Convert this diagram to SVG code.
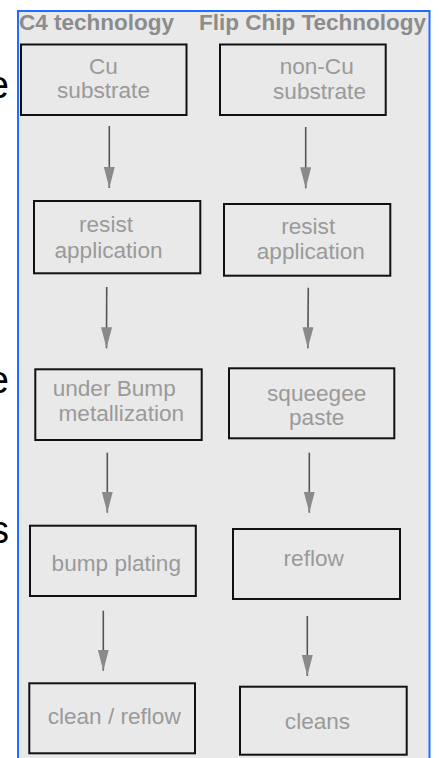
<svg xmlns="http://www.w3.org/2000/svg" width="439" height="758" viewBox="0 0 439 758">
<style>
.box{fill:none;stroke:#111;stroke-width:2}
.lbl{font-family:"Liberation Sans",Arial,sans-serif;font-size:22.6px;fill:#9a9a9a;text-anchor:middle}
.hdr{font-family:"Liberation Sans",Arial,sans-serif;font-size:22.5px;font-weight:bold;fill:#8c8c8c}
.side{font-family:"Liberation Sans",Arial,sans-serif;font-size:38px;fill:#000;text-anchor:end}
.arr{stroke:#555;stroke-width:1.6;fill:none;marker-end:url(#ah)}
</style>
<defs>
<marker id="ah" markerUnits="userSpaceOnUse" viewBox="0 -6 22 12" markerWidth="22" markerHeight="12" refX="21" refY="0" orient="auto">
<path d="M0,-5.5 L21,0 L0,5.5 Z" fill="#8a8a8a"/>
</marker>
</defs>
<rect width="439" height="758" fill="#fff"/>
<text class="side" x="9" y="97.5">e</text>
<text class="side" x="9" y="392.5">e</text>
<text class="side" x="9" y="542.5">s</text>
<rect x="18" y="11" width="411.5" height="760" fill="#e9e9e9" stroke="#1e6fff" stroke-width="2"/>
<text class="hdr" x="19" y="29.5">C4 technology</text>
<text class="hdr" x="199" y="29.5">Flip Chip Technology</text>
<g id="connectors">
<line class="arr" x1="109.3" y1="126" x2="109.3" y2="188"/>
<line class="arr" x1="106.7" y1="287" x2="106.5" y2="348.3"/>
<line class="arr" x1="107.3" y1="452.7" x2="107.3" y2="512.7"/>
<line class="arr" x1="103.3" y1="610.7" x2="103.3" y2="670.7"/>
<line class="arr" x1="305.7" y1="127" x2="305.7" y2="188.3"/>
<line class="arr" x1="308.3" y1="287.7" x2="307.8" y2="348.3"/>
<line class="arr" x1="309.3" y1="452.7" x2="309.3" y2="512.7"/>
<line class="arr" x1="307.3" y1="616" x2="307.3" y2="676"/>
</g>
<g id="l1"><rect class="box" x="21" y="44.5" width="165.5" height="70.5"/><text class="lbl" x="103.5" y="74">Cu</text><text class="lbl" x="103.5" y="98">substrate</text></g>
<g id="l2"><rect class="box" x="34" y="201" width="166.3" height="72.3"/><text class="lbl" x="106" y="231.7">resist</text><text class="lbl" x="108.5" y="257.7">application</text></g>
<g id="l3"><rect class="box" x="35.3" y="369.3" width="166.4" height="70.7"/><text class="lbl" x="114.2" y="396">under Bump</text><text class="lbl" x="121.3" y="421">metallization</text></g>
<g id="l4"><rect class="box" x="30" y="525.7" width="165.8" height="70.3"/><text class="lbl" x="116.3" y="570.7">bump plating</text></g>
<g id="l5"><rect class="box" x="29.3" y="683.3" width="165.7" height="70"/><text class="lbl" x="114.2" y="724">clean / reflow</text></g>
<g id="r1"><rect class="box" x="220" y="44.5" width="165.7" height="70.5"/><text class="lbl" x="316.7" y="74">non-Cu</text><text class="lbl" x="319.5" y="99">substrate</text></g>
<g id="r2"><rect class="box" x="224" y="204" width="166.3" height="71.7"/><text class="lbl" x="308.2" y="234">resist</text><text class="lbl" x="310.8" y="259.3">application</text></g>
<g id="r3"><rect class="box" x="229" y="368.3" width="165.3" height="70"/><text class="lbl" x="316.7" y="400.7">squeegee</text><text class="lbl" x="316.7" y="425">paste</text></g>
<g id="r4"><rect class="box" x="233" y="529" width="167" height="70"/><text class="lbl" x="313.7" y="566">reflow</text></g>
<g id="r5"><rect class="box" x="240" y="686.7" width="166.7" height="68"/><text class="lbl" x="317.5" y="729.3">cleans</text></g>
</svg>
